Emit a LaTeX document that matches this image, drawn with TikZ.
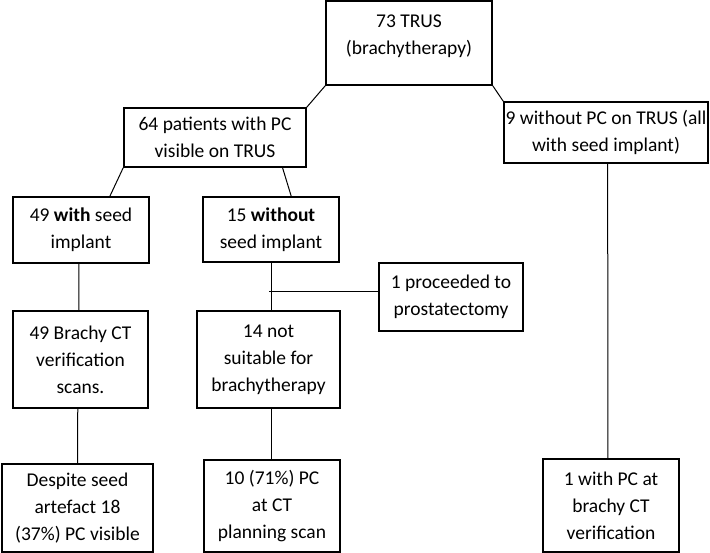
\documentclass[tikz,border=0pt]{standalone}
\usepackage{fontspec}
\setmainfont{Carlito}
\usetikzlibrary{calc}
\begin{document}
\begin{tikzpicture}[x=1pt,y=-1pt,
  box/.style={draw=black, line width=1.6pt, rectangle, inner sep=0pt, align=center,
    font=\fontsize{19.5}{27}\selectfont},
  link/.style={draw=black, line width=1pt}]
\useasboundingbox (0,0) rectangle (710,553);
% boxes
\node[box, minimum width=166, minimum height=84] (top) at (409,43) {73 TRUS\\(brachytherapy)\\[-19pt]\strut};
\node[box, minimum width=182, minimum height=59] (b64) at (215,137.5) {64 patients with PC\\visible on TRUS};
\node[box, minimum width=204, minimum height=61] (b9) at (606,132.5) {9 without PC on TRUS (all\\with seed implant)};
\node[box, minimum width=136, minimum height=66] (b49w) at (81,230) {49 \textbf{with} seed\\implant};
\node[box, minimum width=136, minimum height=65] (b15) at (271,229.5) {15 \textbf{without}\\seed implant};
\node[box, minimum width=144, minimum height=68] (b1p) at (451,297) {1 proceeded to\\prostatectomy};
\node[box, minimum width=135, minimum height=97] (b49b) at (80.5,359.5) {49 Brachy CT\\verification\\scans.};
\node[box, minimum width=143, minimum height=97] (b14) at (268.5,359.5) {14 not\\suitable for\\brachytherapy};
\node[box, minimum width=151, minimum height=88] (bDes) at (77.5,508) {Despite seed\\artefact 18\\(37\%) PC visible};
\node[box, minimum width=136, minimum height=92] (b10) at (272,506) {10 (71\%) PC\\at CT\\planning scan};
\node[box, minimum width=136, minimum height=93] (b1w) at (611,505.5) {1 with PC at\\brachy CT\\verification};
% connectors
\coordinate (split) at ($(b15.south)!0.61!(b14.north)$);
\draw[link] (top.south west) -- (b64.north east);
\draw[link] (top.south east) -- (b9.north west);
\draw[link] (b64.south west) -- ($(b49w.north west)!0.71!(b49w.north east)$);
\draw[link] ($(b64.south west)!0.868!(b64.south east)$) -- ($(b15.north west)!0.647!(b15.north east)$);
\draw[link] ($(b49w.south west)!0.485!(b49w.south east)$) -- ($(b49b.north west)!0.488!(b49b.north east)$);
\draw[link] (b15.south) -- (b14.north -| b15.south);
\draw[link] (split) -- (split -| b1p.west);
\draw[link] ($(b49b.south west)!0.48!(b49b.south east)$) -- ($(bDes.north west)!0.5!(bDes.north east)$);
\draw[link] (b14.south -| b15.south) -- (b10.north -| b15.south);
\draw[link] ($(b9.south west)!0.508!(b9.south east)$) -- ($(b1w.north west)!0.478!(b1w.north east)$);
\end{tikzpicture}
\end{document}
